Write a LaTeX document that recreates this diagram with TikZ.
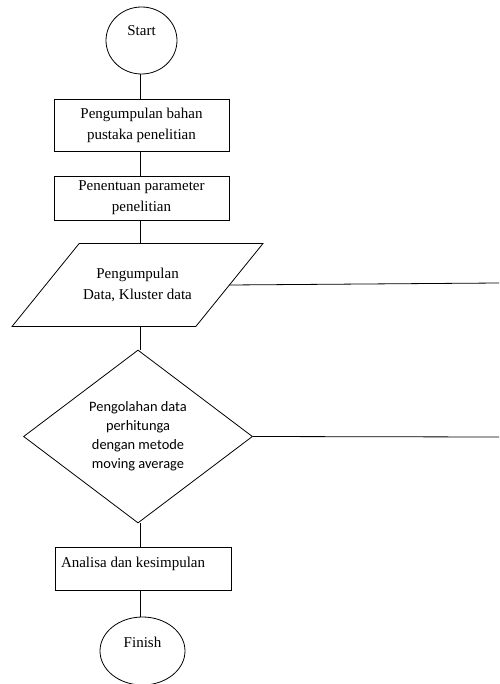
\documentclass[tikz,border=0pt]{standalone}
\usepackage{fontspec}
\setmainfont{Liberation Serif}
\newfontfamily\diafont{Carlito}
\usetikzlibrary{shapes.geometric,calc}
\begin{document}
\begin{tikzpicture}[x=1pt,y=-1pt,
  line width=0.8pt,
  every node/.style={font=\fontsize{15}{21}\selectfont},
  term/.style={draw, ellipse, inner sep=0pt, text height=10pt},
  procbox/.style={draw, rectangle, align=center, inner sep=0pt},
  iobox/.style={rectangle, align=center, inner sep=0pt},
  decision/.style={draw, diamond, align=center, inner sep=0pt, aspect=1.32,
    font=\diafont\fontsize{14.4}{19}\selectfont},
  link/.style={draw, line width=0.8pt}]
\useasboundingbox (0,0) rectangle (499,684);
\coordinate (axis) at (140,0);
\node[term, minimum width=71pt, minimum height=67pt, text depth=19pt] (start) at (141.5,40.5) {Start};
\node[procbox, minimum width=175pt, minimum height=52pt] (box1) at (141.5,125) {Pengumpulan bahan\\pustaka penelitian};
\node[procbox, minimum width=175pt, minimum height=44pt] (box2) at (141.5,198) {Penentuan parameter\\penelitian};
\node[iobox, minimum width=183pt, minimum height=82pt] (para) at (137.5,285) {Pengumpulan\\Data, Kluster data};
\draw ($(para.north west)+(33.5,0)$) -- ($(para.north east)+(33.5,0)$)
  -- ($(para.south east)+(-33.5,0)$) -- ($(para.south west)+(-33.5,0)$) -- cycle;
\node[decision, minimum width=229pt, minimum height=173pt] (dec) at (138,436.5) {Pengolahan data\\perhitunga\\dengan metode\\moving average};
\node[procbox, minimum width=176pt, minimum height=43pt, text height=10pt, text depth=13pt,
  inner xsep=6pt, text width=164pt, align=flush left] (box3) at (143,568.5) {Analisa dan kesimpulan};
\node[term, minimum width=85pt, minimum height=68pt, text depth=18pt] (finish) at (142.5,651) {Finish};
\coordinate (r1) at (499,283);
\coordinate (r2) at (499,437);
\draw[link] (start.south -| axis) -- (box1.north -| axis);
\draw[link] (box1.south -| axis) -- (box2.north -| axis);
\draw[link] (box2.south -| axis) -- (para.north -| axis);
\draw[link] (para.south -| axis) -- (dec.north -| axis);
\draw[link] (dec.south -| axis) -- (box3.north -| axis);
\draw[link] (box3.south -| axis) -- (finish.north -| axis);
\draw[link] (para.east) -- (r1);
\draw[link] (dec.east) -- (r2);
\end{tikzpicture}
\end{document}
